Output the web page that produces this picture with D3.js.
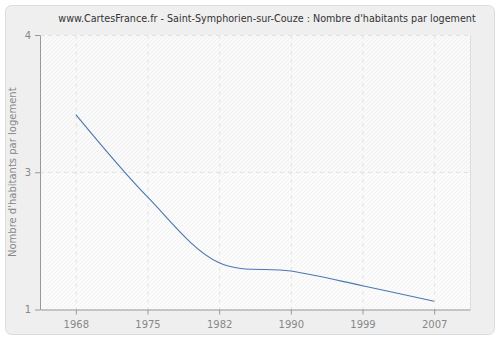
<!DOCTYPE html>
<html>
<head>
<meta charset="utf-8">
<script src="https://cdn.jsdelivr.net/npm/d3@7/dist/d3.min.js"></script>
<style>
  html, body { margin: 0; padding: 0; background: #ffffff; }
  svg { display: block; }
</style>
</head>
<body>
<script>
// Nombre d'habitants par logement, Saint-Symphorien-sur-Couze
const years = ["1968", "1975", "1982", "1990", "1999", "2007"];
const values = [3.13, 2.23, 1.51, 1.42, 1.26, 1.09];
const yTicks = [1, 2.5, 4];
const titleText = "www.CartesFrance.fr - Saint-Symphorien-sur-Couze : Nombre d'habitants par logement";
const yLabel = "Nombre d'habitants par logement";

const W = 500, H = 340;
const plot = { left: 40, right: 470, top: 35, bottom: 309.5 };

const svg = d3.select("body").append("svg")
  .attr("width", W).attr("height", H);

const defs = svg.append("defs");
function hatch(id, bg, line) {
  const p = defs.append("pattern")
    .attr("id", id).attr("patternUnits", "userSpaceOnUse")
    .attr("width", 4).attr("height", 4);
  p.append("rect").attr("width", 4).attr("height", 4).attr("fill", bg);
  p.append("path").attr("d", "M-1,1 L1,-1 M0,4 L4,0 M3,5 L5,3")
    .attr("stroke", line).attr("stroke-width", 0.8);
}
hatch("hatchTop", "#fafafa", "#ececec");
hatch("hatchBottom", "#fbfbfb", "#f1f1f1");

// outer panel
svg.append("rect")
  .attr("x", 5.5).attr("y", 5.5).attr("width", 489).attr("height", 329)
  .attr("rx", 6).attr("ry", 6)
  .attr("fill", "#efefef").attr("stroke", "#dcdcdc");

const x = d3.scalePoint().domain(years).range([plot.left, plot.right]).padding(0.5);
const y = d3.scaleLinear().domain([1, 4]).range([plot.bottom, plot.top]);

// plot background bands
svg.append("rect")
  .attr("x", plot.left).attr("y", y(4))
  .attr("width", plot.right - plot.left).attr("height", y(2.5) - y(4))
  .attr("fill", "url(#hatchTop)");
svg.append("rect")
  .attr("x", plot.left).attr("y", y(2.5))
  .attr("width", plot.right - plot.left).attr("height", y(1) - y(2.5))
  .attr("fill", "url(#hatchBottom)");

// grid
const grid = svg.append("g").attr("stroke", "#e2e2e2").attr("stroke-dasharray", "4,4").attr("fill", "none");
years.forEach(yr => {
  grid.append("line")
    .attr("x1", x(yr) + 0.5).attr("x2", x(yr) + 0.5)
    .attr("y1", plot.top).attr("y2", plot.bottom);
});
yTicks.slice(1).forEach(v => {
  grid.append("line")
    .attr("x1", plot.left).attr("x2", plot.right)
    .attr("y1", Math.round(y(v)) + 0.5).attr("y2", Math.round(y(v)) + 0.5);
});
// right border of plot
svg.append("line")
  .attr("x1", plot.right + 0.5).attr("x2", plot.right + 0.5)
  .attr("y1", plot.top).attr("y2", plot.bottom)
  .attr("stroke", "#dddddd");

// axes
const font = "DejaVu Sans, Verdana, sans-serif";
const xAxis = svg.append("g")
  .attr("transform", `translate(0,${plot.bottom})`)
  .call(d3.axisBottom(x).tickSize(5).tickSizeOuter(0).tickPadding(6));
const yAxis = svg.append("g")
  .attr("transform", `translate(${plot.left},0)`)
  .call(d3.axisLeft(y).tickValues(yTicks).tickFormat(d => Math.round(d)).tickSize(5).tickSizeOuter(0).tickPadding(4));
[xAxis, yAxis].forEach(a => {
  a.select(".domain").attr("stroke", "#999999");
  a.selectAll(".tick line").attr("stroke", "#999999");
  a.selectAll(".tick text").attr("fill", "#888888")
    .style("font-family", font).style("font-size", "10px");
});

// data line
const line = d3.line()
  .x((d, i) => x(years[i]))
  .y(d => y(d))
  .curve(d3.curveCatmullRom.alpha(0.5));
svg.append("path")
  .datum(values)
  .attr("d", line)
  .attr("fill", "none")
  .attr("stroke", "#4a78b0")
  .attr("stroke-width", 1.1);

// title
svg.append("text")
  .attr("x", 267).attr("y", 22)
  .attr("text-anchor", "middle")
  .attr("fill", "#333333")
  .style("font-family", font).style("font-size", "9.6px")
  .text(titleText);

// y label
svg.append("text")
  .attr("transform", `translate(16,${(plot.top + plot.bottom) / 2}) rotate(-90)`)
  .attr("text-anchor", "middle")
  .attr("fill", "#888888")
  .style("font-family", font).style("font-size", "10px")
  .text(yLabel);
</script>
</body>
</html>
